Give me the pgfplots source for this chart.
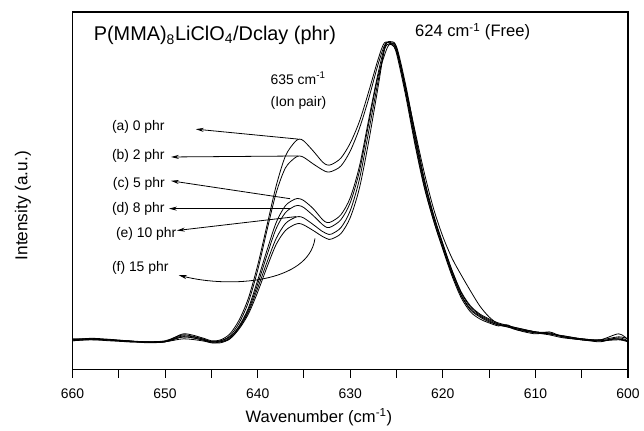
\documentclass[border=0pt]{standalone}
\usepackage{fontspec}
\setmainfont{Liberation Sans}
\usepackage{pgfplots}
\pgfplotsset{compat=1.18}
\usetikzlibrary{arrows.meta}

\begin{document}
\begin{tikzpicture}
\begin{axis}[
  scale only axis, width=419.25pt, height=270pt,
  xmin=600, xmax=660, ymin=0, ymax=360, x dir=reverse,
  axis line style={line width=1pt},
  xtick={600,610,...,660}, minor xtick={605,615,...,655},
  ytick=\empty,
  xtick pos=bottom, tick align=outside,
  major tick length=6pt, minor tick length=6pt,
  every tick/.style={black, line width=0.8pt},
  tick label style={font=\fontsize{10.5}{12}\selectfont},
  xticklabel style={yshift=-5pt},
  /pgf/number format/assume math mode=true,
  xlabel={Wavenumber (cm\textsuperscript{-1})},
  ylabel={Intensity (a.u.)},
  xlabel style={at={(axis description cs:0.4437,-0.147)}, anchor=base, font=\fontsize{12.5}{14}\selectfont},
  ylabel style={at={(axis description cs:-0.0894,0.458)}, anchor=center, font=\fontsize{13}{15}\selectfont},
  clip=false,
  every axis plot post/.style={black, solid, mark=none, line width=0.6pt, smooth, tension=0.5},
]
% canvas
\path (axis description cs:-0.1306,-0.1556) rectangle (axis description cs:1.0215,1.0333);

% (a) 0 phr
\addplot coordinates {
(660,30) (658,31.5) (656,30.5) (654,29) (652,27.5) (650,28) (648,36) (646,32) (645,29) (644,30)
(643,36) (642,50) (641,72) (640,105) (639,145) (638,185) (637,215) (636,229) (635.5,232) (635,230)
(634,220) (633,209) (632.5,206) (632,206.5) (631,213) (630,228) (629,250) (628,280) (627,312) (626.3,329)
(625.5,327) (625,318) (624,275) (623,226) (622,183) (621,150) (620,122) (619,96) (618,74) (617,60)
(616,53) (615,48) (614,45) (613,43) (612,40) (610,37) (608.5,35) (607,32) (605,30) (603,28) (601.5,31) (600,29)};
% (b) 2 phr
\addplot coordinates {
(660,29) (658,30.5) (656,30) (654,28.5) (652,28) (650,28.5) (648,34) (646,31) (645,28) (644,29)
(643,34) (642,47) (641,68) (640,100) (639,140) (638,178) (637,203) (636,213) (635.5,215) (635,213.5)
(634,207) (633,201) (632.5,199) (632,199.5) (631,205) (630,220) (629,243) (628,273) (627,307) (626.2,328)
(625.5,327) (625,320) (624,283) (623,240) (622,198) (621,162) (620,134) (619,112) (618,95) (617,79)
(616,64) (615,53) (614,46) (613,44) (612,41) (610,38) (608.5,37) (607,33) (605,30) (603,29) (601,30) (600,28)};
% (c) 5 phr
\addplot coordinates {
(660,31) (658,31) (656,29.5) (654,29) (652,27) (650,28) (648,33) (646,30) (645,27) (644,28)
(643,32) (642,44) (641,62) (640,90) (639,120) (638,148) (637,165) (636,171.5) (635.5,172) (635,170)
(634,162) (633,151) (632.5,148) (632,149) (631,156) (630,173) (629,205) (628,252) (627,298) (626.2,327)
(625.6,329) (625,322) (624,278) (623,229) (622,185) (621,150) (620,121) (619,94) (618,72) (617,58)
(616,51) (615,47) (614,44) (613,45) (612,40) (610,36) (608.5,38) (607,33) (605,31) (603,30) (601,36) (600,30)};
% (d) 8 phr
\addplot coordinates {
(660,30) (658,30) (656,30) (654,28) (652,28) (650,29) (648,35) (646,31) (645,28) (644,29)
(643,33) (642,43) (641,60) (640,86) (639,115) (638,142) (637,158) (636,164.5) (635.5,165) (635,163)
(634,155) (633,146) (632.5,143) (632,144) (631,151) (630,168) (629,200) (628,248) (627,295) (626,324)
(625.5,327) (625,322) (624,280) (623,232) (622,188) (621,153) (620,124) (619,97) (618,75) (617,61)
(616,54) (615,49) (614,45) (612,41) (610,37) (608.5,36) (607,34) (605,31) (603,30) (601,33) (600,31)};
% (e) 10 phr
\addplot coordinates {
(660,29) (658,30) (656,29) (654,28) (652,27.5) (650,28) (648,31) (646,29) (645,27) (644,27)
(643,31) (642,42) (641,58) (640,82) (639,108) (638,132) (637,147) (636,153) (635.5,154) (635,152.5)
(634,146) (633,139) (632.3,136) (632,136.5) (631,143) (630,160) (629,192) (628,240) (627,290) (626.2,326)
(625.5,330) (625,324) (624,283) (623,235) (622,190) (621,155) (620,126) (619,99) (618,77) (617,63)
(616,55) (615,50) (614,46) (612,42) (610,38) (608.5,36) (607,34) (605,31) (603,29) (601,32) (600,29)};
% (f) 15 phr
\addplot coordinates {
(660,30) (658,31) (656,30) (654,29) (652,28) (650,28) (648,33) (646,30) (645,28) (644,28)
(643,31) (642,41) (641,56) (640,78) (639,103) (638,126) (637,140) (636,146) (635.5,147) (635,145.5)
(634,140) (633,134) (632.3,131) (632,131.5) (631,137) (630,153) (629,183) (628,230) (627,284) (626.3,322)
(625.7,328) (625,325) (624,286) (623,238) (622,192) (621,156) (620,127) (619,100) (618,78) (617,64)
(616,56) (615,51) (614,47) (612,42) (610,38) (608.5,36) (607,33) (605,30) (603,29) (601,31) (600,28)};

% annotations
\node[anchor=west, font=\fontsize{15}{18}\selectfont] at (658.2,336) {P(MMA)\textsubscript{8}LiClO\textsubscript{4}/Dclay (phr)};
\node[anchor=west, font=\fontsize{12.5}{15}\selectfont] at (623.5,340) {624 cm\textsuperscript{-1} (Free)};
\node[anchor=west, align=left, font=\fontsize{10.5}{17}\selectfont] at (639.1,280.5) {635 cm\textsuperscript{-1}\\(Ion pair)};

\begin{scope}[font=\fontsize{10.5}{12}\selectfont]
\node[anchor=west] at (656.24,244) {(a) 0 phr};
\node[anchor=west] at (656.24,215) {(b) 2 phr};
\node[anchor=west] at (656.14,187) {(c) 5 phr};
\node[anchor=west] at (656.24,162) {(d) 8 phr};
\node[anchor=west] at (655.81,137) {(e) 10 phr};
\node[anchor=west] at (656.24,102) {(f) 15 phr};
\end{scope}

\begin{scope}[line width=0.6pt, -{Stealth[length=6pt,width=3pt]}]
\draw (635.64,232) -- (646.69,242);
\draw (635.64,215) -- (649.37,214);
\draw (636.49,172) -- (649.37,190);
\draw (636.39,162) -- (649.59,162);
\draw (635.85,154) -- (648.73,140);
\draw (633.81,132) .. controls (634.5,87) and (643,82) .. (648.52,95);
\end{scope}
\end{axis}
\end{tikzpicture}
\end{document}
